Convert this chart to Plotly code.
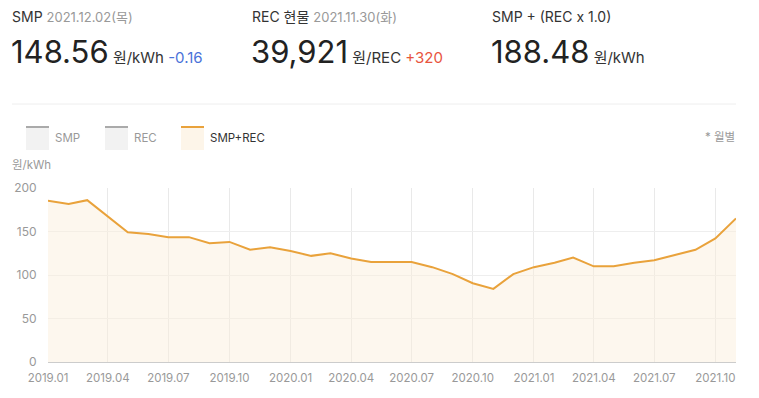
import plotly.graph_objects as go

months = ["2019-01","2019-02","2019-03","2019-04","2019-05","2019-06","2019-07","2019-08","2019-09","2019-10","2019-11","2019-12",
          "2020-01","2020-02","2020-03","2020-04","2020-05","2020-06","2020-07","2020-08","2020-09","2020-10","2020-11","2020-12",
          "2021-01","2021-02","2021-03","2021-04","2021-05","2021-06","2021-07","2021-08","2021-09","2021-10","2021-11"]
smp_rec = [185.5, 181.5, 186, 167, 149, 147, 143.5, 143.5, 136.5, 138, 129, 132,
           127.5, 122, 125, 119, 115, 115, 115, 109, 101, 90.5, 84, 101,
           109, 114, 120, 110, 110, 114, 117, 123, 129, 142, 165]
tick_vals = ["2019-01","2019-04","2019-07","2019-10","2020-01","2020-04","2020-07","2020-10","2021-01","2021-04","2021-07","2021-10"]
tick_text = ["2019.01","2019.04","2019.07","2019.10","2020.01","2020.04","2020.07","2020.10","2021.01","2021.04","2021.07","2021.10"]
y_ticks = [0, 50, 100, 150, 200]

FONT = "Inter, Noto Sans CJK KR, sans-serif"
ORANGE = "#e9a23b"

fig = go.Figure()
fig.add_trace(go.Scatter(
    x=months, y=smp_rec, mode="lines",
    line=dict(color=ORANGE, width=2),
    fill="tozeroy", fillcolor="rgba(250,238,218,0.45)",
    hoverinfo="skip", showlegend=False,
))

fig.update_layout(
    width=759, height=398,
    margin=dict(l=48, r=23, t=188, b=36),
    paper_bgcolor="white", plot_bgcolor="white",
    font=dict(family=FONT, color="#999999", size=11),
    xaxis=dict(
        range=["2019-01-01", "2021-11-01"],
        tickvals=tick_vals, ticktext=tick_text,
        showgrid=True, gridcolor="#e9e9e9", gridwidth=1,
        showline=True, linecolor="#cccccc", linewidth=1,
        ticks="outside", ticklen=5, tickcolor="rgba(0,0,0,0)",
        tickfont=dict(size=11.5, color="#999999"),
        zeroline=False, fixedrange=True,
    ),
    yaxis=dict(
        range=[0, 200], tickvals=y_ticks,
        showgrid=True, gridcolor="#eeeeee", gridwidth=1,
        zeroline=False, ticks="outside", ticklen=8, tickcolor="rgba(0,0,0,0)",
        tickfont=dict(size=12, color="#999999"),
        fixedrange=True,
    ),
)

ann = []
def txt(x, y, text, size, color, xanchor="left", yanchor="middle"):
    ann.append(dict(x=x, y=y, xref="paper", yref="paper", text=text, showarrow=False,
                    xanchor=xanchor, yanchor=yanchor,
                    font=dict(size=size, color=color, family=FONT)))

W, H = 759.0, 398.0
L, R, T, B = 48, 23, 188, 36
pw, ph = W - L - R, H - T - B
def px(x): return (x - L) / pw
def py(y): return (H - B - y) / ph

# Header
header = [
    (12, "SMP <span style='color:#999999;font-size:13px'>2021.12.02(목)</span>",
     "148.56", "원/kWh", " -0.16", "#4a72d9"),
    (252, "REC 현물 <span style='color:#999999;font-size:13px'>2021.11.30(화)</span>",
     "39,921", "원/REC", " +320", "#e8553e"),
    (492, "SMP + (REC x 1.0)", "188.48", "원/kWh", "", "#333333"),
]
for x0, title, big, unit, delta, dcol in header:
    txt(px(x0 - 2), py(16), title, 14, "#333333")
    s = ("<span style='font-size:31px;color:#222222'>" + big + "</span> "
         "<span style='font-size:15px;color:#333333'>" + unit + "</span>"
         + ("<span style='font-size:15px;color:" + dcol + "'>" + delta + "</span>" if delta else ""))
    ann.append(dict(x=px(x0 - 3), y=py(51), xref="paper", yref="paper", text=s, showarrow=False,
                    xanchor="left", yanchor="middle", font=dict(family=FONT, size=15, color="#333333")))

# Legend
legend = [(26, "SMP", "#aaaaaa", "#f2f2f2", "#999999"),
          (105, "REC", "#aaaaaa", "#f2f2f2", "#999999"),
          (181, "SMP+REC", ORANGE, "#fdf5e9", "#333333")]
shapes = []
for x0, label, lc, fc, tc in legend:
    shapes.append(dict(type="rect", xref="paper", yref="paper", x0=px(x0), x1=px(x0 + 23),
                       y0=py(150), y1=py(127), fillcolor=fc, line=dict(width=0), layer="below"))
    shapes.append(dict(type="line", xref="paper", yref="paper", x0=px(x0), x1=px(x0 + 23),
                       y0=py(127), y1=py(127), line=dict(color=lc, width=2)))
    txt(px(x0 + 27), py(138), label, 11.5, tc)

txt(px(737), py(137), "* 월별", 11.5, "#999999", xanchor="right")
txt(px(10), py(165), "원/kWh", 11.5, "#999999")

shapes.append(dict(type="line", xref="paper", yref="paper", x0=px(12), x1=px(736),
                   y0=py(104), y1=py(104), line=dict(color="#eeeeee", width=1)))

fig.update_layout(annotations=ann, shapes=shapes)
fig.write_html("out.html", config={"displayModeBar": False},
               post_script="document.body.style.margin='0';document.body.style.padding='0';")
